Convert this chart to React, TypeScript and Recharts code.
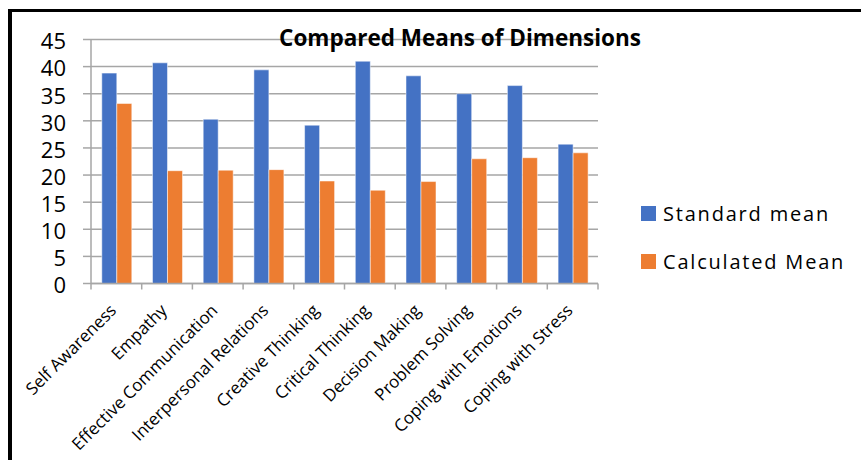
import React from "react";
import { BarChart, Bar, XAxis, YAxis, CartesianGrid, Legend } from "recharts";

const categories = [
  "Self Awareness",
  "Empathy",
  "Effective Communication",
  "Interpersonal Relations",
  "Creative Thinking",
  "Critical Thinking",
  "Decision Making",
  "Problem Solving",
  "Coping with Emotions",
  "Coping with Stress",
];
const standardMean = [38.8, 40.7, 30.3, 39.4, 29.2, 41.0, 38.3, 35.0, 36.5, 25.7];
const calculatedMean = [33.2, 20.8, 20.9, 21.0, 18.9, 17.2, 18.8, 23.0, 23.2, 24.1];
const seriesNames = ["Standard mean", "Calculated Mean"];
const yTicks = [0, 5, 10, 15, 20, 25, 30, 35, 40, 45];

const data = categories.map((name, i) => ({
  name,
  standard: standardMean[i],
  calculated: calculatedMean[i],
}));

const GRAY = "#a6a6a6";

function CategoryTick(props: any) {
  const { x, y, payload, index, visibleTicksCount } = props;
  const half = payload.offset ?? 0;
  const tx = x + 1;
  const ty = y + 22;
  return (
    <g>
      <line x1={x - half} x2={x - half} y1={y - 6} y2={y} stroke={GRAY} strokeWidth={1.5} />
      {index === visibleTicksCount - 1 && (
        <line x1={x + half} x2={x + half} y1={y - 6} y2={y} stroke={GRAY} strokeWidth={1.5} />
      )}
      <text
        x={tx}
        y={ty}
        transform={`rotate(-45, ${tx}, ${ty})`}
        textAnchor="end"
        fontSize={17}
        fill="#000"
      >
        {payload.value}
      </text>
    </g>
  );
}

function LegendBox(props: any) {
  const items = [...(props.payload || [])].sort(
    (a: any, b: any) => seriesNames.indexOf(a.value) - seriesNames.indexOf(b.value),
  );
  return (
    <div>
      {items.map((it: any) => (
        <div
          key={it.value}
          style={{ display: "flex", alignItems: "center", height: 15, marginBottom: 33 }}
        >
          <span style={{ width: 15, height: 15, background: it.color, display: "inline-block" }} />
          <span
            style={{ marginLeft: 7, fontSize: 20, letterSpacing: 1.8, lineHeight: "15px", color: "#000", whiteSpace: "nowrap" }}
          >
            {it.value}
          </span>
        </div>
      ))}
    </div>
  );
}

export default function App() {
  return (
    <div
      style={{
        position: "absolute",
        left: 0,
        top: 0,
        width: 861,
        height: 460,
        background: "#fff",
        fontFamily: "'Open Sans', sans-serif",
        overflow: "hidden",
      }}
    >
      <div
        style={{
          position: "absolute",
          left: 8,
          top: 9,
          width: 900,
          height: 500,
          borderTop: "3px solid #000",
          borderLeft: "4px solid #000",
        }}
      />
      <BarChart
        width={861}
        height={460}
        data={data}
        margin={{ top: 39.5, right: 263, left: 0, bottom: 6.5 }}
        barCategoryGap="21.3%"
        barGap={0}
      >
        <CartesianGrid vertical={false} stroke={GRAY} strokeWidth={1.5} />
        <XAxis
          dataKey="name"
          interval={0}
          height={170}
          axisLine={{ stroke: GRAY, strokeWidth: 1.5 }}
          tickLine={false}
          tickSize={6}
          tickMargin={0}
          tick={<CategoryTick />}
        />
        <YAxis
          width={91}
          domain={[0, 45]}
          ticks={yTicks}
          interval={0}
          axisLine={{ stroke: GRAY, strokeWidth: 1.5 }}
          tickLine={{ stroke: GRAY, strokeWidth: 1.5 }}
          tickSize={8}
          tickMargin={17}
          tick={{ fontSize: 22, fill: "#000", dy: 2 }}
        />
        <Legend
          layout="vertical"
          align="center"
          verticalAlign="middle"
          wrapperStyle={{ left: 641, top: 206, width: 220 }}
          content={<LegendBox />}
        />
        <Bar
          dataKey="standard"
          name={seriesNames[0]}
          fill="#4472C4"
          stroke="#ffffff"
          strokeOpacity={0.5}
          isAnimationActive={false}
        />
        <Bar
          dataKey="calculated"
          name={seriesNames[1]}
          fill="#ED7D31"
          stroke="#ffffff"
          strokeOpacity={0.5}
          isAnimationActive={false}
        />
      </BarChart>
      <div
        style={{
          position: "absolute",
          left: 260,
          top: 26,
          width: 400,
          textAlign: "center",
          fontSize: 22.5,
          fontWeight: 700,
          lineHeight: "23px",
          color: "#000",
          whiteSpace: "nowrap",
        }}
      >
        Compared Means of Dimensions
      </div>
    </div>
  );
}
